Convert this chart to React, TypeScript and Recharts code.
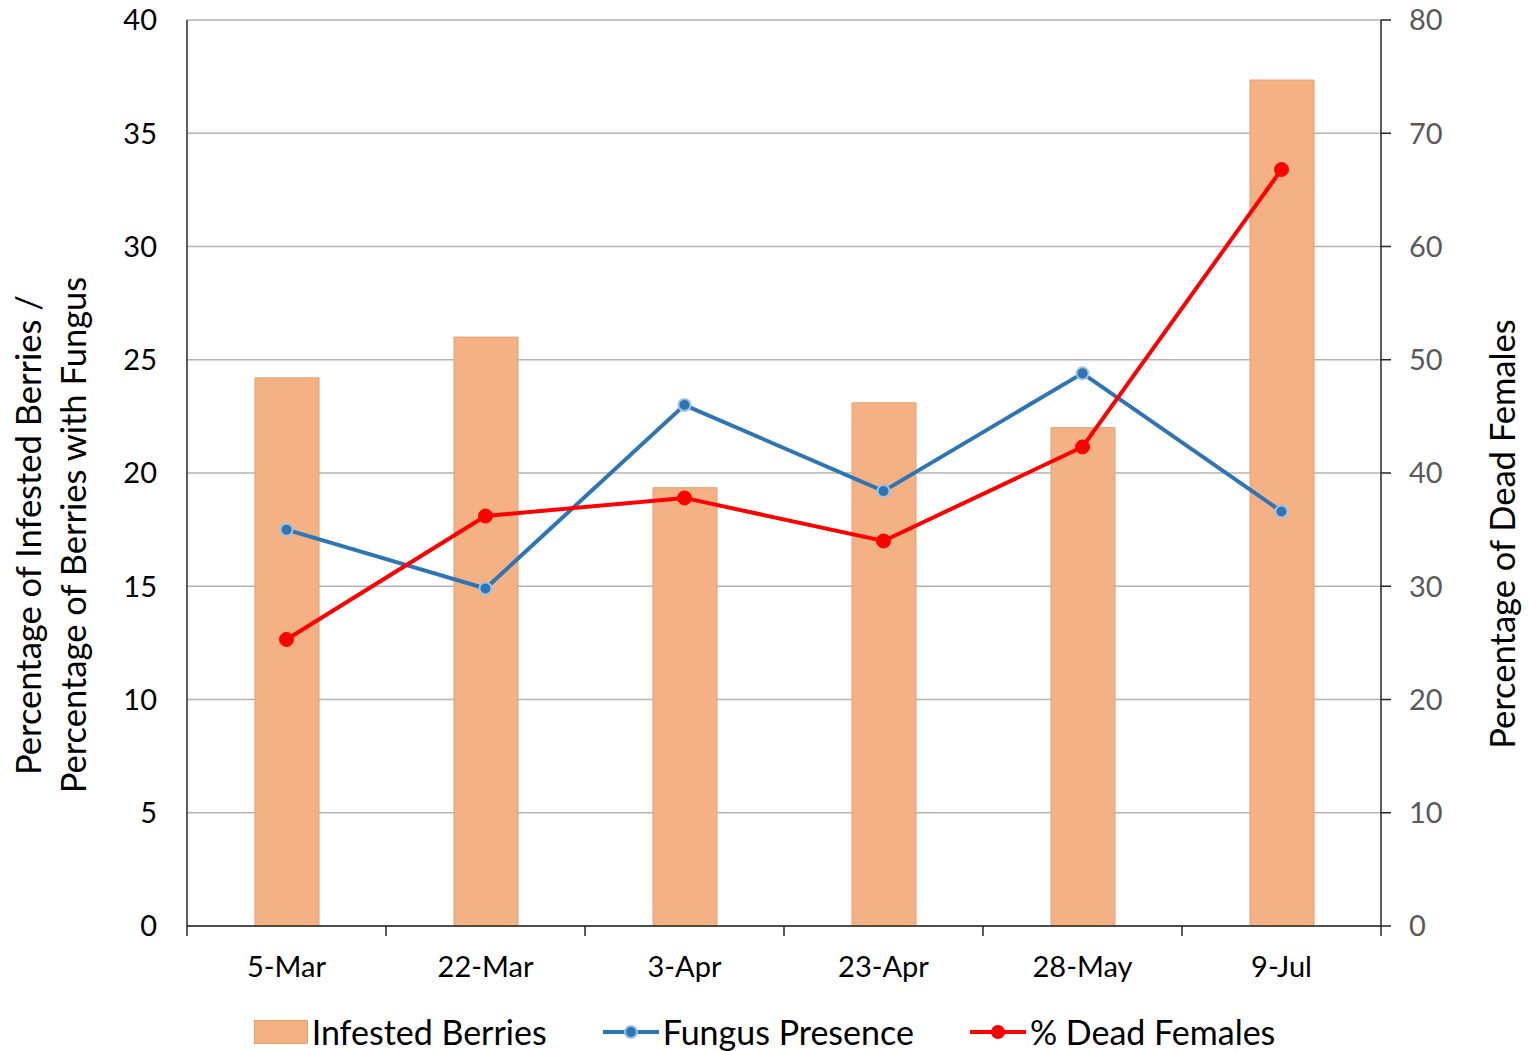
import {
  ComposedChart, Bar, Line, XAxis, YAxis, CartesianGrid, Legend,
} from 'recharts';

const dates = ['5-Mar', '22-Mar', '3-Apr', '23-Apr', '28-May', '9-Jul'];
const infestedBerries = [24.2, 26.0, 19.35, 23.1, 22.0, 37.35];
const fungusPresence = [17.5, 14.9, 23.0, 19.2, 24.4, 18.3];
const deadFemales = [25.3, 36.2, 37.8, 34.0, 42.3, 66.8];

const leftTicks = [0, 5, 10, 15, 20, 25, 30, 35, 40];
const rightTicks = [0, 10, 20, 30, 40, 50, 60, 70, 80];

const data = dates.map((d, i) => ({
  date: d,
  infested: infestedBerries[i],
  fungus: fungusPresence[i],
  dead: deadFemales[i],
}));

const FONT = 'Lato, "Liberation Sans", sans-serif';
const C = {
  bar: '#F4B183',
  barEdge: '#E3A06E',
  blue: '#2E75B6',
  blueRing: '#9DC3E6',
  red: '#FF0000',
  grid: '#B3B3B3',
  axis: '#262626',
};

function DateTick(props: any) {
  const { x, y, payload, index } = props;
  const half = payload?.offset || 99.5;
  return (
    <g>
      <line x1={x - half} x2={x - half} y1={y - 10} y2={y} stroke={C.axis} strokeWidth={1.5} />
      {index === dates.length - 1 && (
        <line x1={x + half} x2={x + half} y1={y - 10} y2={y} stroke={C.axis} strokeWidth={1.5} />
      )}
      <text x={x} y={y + 41} textAnchor="middle" fontSize={29} fontFamily={FONT} fill="#000">
        {payload.value}
      </text>
    </g>
  );
}

function LeftTitle(props: any) {
  const vb = props.viewBox || { x: 0, y: 20, height: 906 };
  const cy = vb.y + vb.height / 2 + 62;
  return (
    <g fontFamily={FONT} fontSize={34.5} fill="#000">
      <text transform={`translate(${vb.x + 41}, ${cy}) rotate(-90)`} textAnchor="middle">
        Percentage of Infested Berries /
      </text>
      <text transform={`translate(${vb.x + 86}, ${cy}) rotate(-90)`} textAnchor="middle">
        Percentage of Berries with Fungus
      </text>
    </g>
  );
}

function RightTitle(props: any) {
  const vb = props.viewBox || { x: 1381, y: 20, width: 148, height: 906 };
  const cy = vb.y + vb.height / 2 + 61;
  return (
    <text
      transform={`translate(${vb.x + 134}, ${cy}) rotate(-90)`}
      textAnchor="middle" fontFamily={FONT} fontSize={34.5} fill="#000"
    >
      Percentage of Dead Females
    </text>
  );
}

function LegendBox() {
  const item = { display: 'flex', alignItems: 'center' } as const;
  return (
    <div style={{
      display: 'flex', justifyContent: 'center', alignItems: 'center', gap: 56,
      fontFamily: FONT, fontSize: 34, color: '#000', height: 55, paddingTop: 16, boxSizing: 'border-box',
    }}>
      <div style={item}>
        <span style={{ width: 52, height: 22, background: C.bar, border: `1px solid ${C.barEdge}`, marginRight: 4 }} />
        Infested Berries
      </div>
      <div style={item}>
        <svg width={56} height={20} style={{ marginRight: 4 }}>
          <line x1={0} x2={56} y1={10} y2={10} stroke={C.blue} strokeWidth={4} />
          <circle cx={28} cy={10} r={6} fill={C.blue} stroke={C.blueRing} strokeWidth={2} />
        </svg>
        Fungus Presence
      </div>
      <div style={item}>
        <svg width={56} height={20} style={{ marginRight: 4 }}>
          <line x1={0} x2={56} y1={10} y2={10} stroke={C.red} strokeWidth={4} />
          <circle cx={28} cy={10} r={7} fill={C.red} />
        </svg>
        % Dead Females
      </div>
    </div>
  );
}

export default function App() {
  return (
    <div style={{ position: 'absolute', left: 0, top: 0, background: '#fff' }}>
      <ComposedChart
        width={1529}
        height={1051}
        data={data}
        margin={{ top: 20, right: 0, bottom: 0, left: 0 }}
        barCategoryGap={0}
      >
        <CartesianGrid yAxisId="left" vertical={false} stroke={C.grid} strokeWidth={1.5} />
        <XAxis
          dataKey="date"
          height={70}
          axisLine={{ stroke: C.axis, strokeWidth: 1.5 }}
          tickLine={false}
          tickSize={10}
          tickMargin={0}
          tick={<DateTick />}
          interval={0}
        />
        <YAxis
          yAxisId="left"
          width={187}
          domain={[0, 40]}
          ticks={leftTicks}
          interval={0}
          axisLine={{ stroke: C.axis, strokeWidth: 1.5 }}
          tickLine={false}
          tickSize={0}
          tickMargin={30}
          tick={{ fontSize: 29, fontFamily: FONT, fill: '#000' }}
          label={{ content: <LeftTitle /> }}
        />
        <YAxis
          yAxisId="right"
          orientation="right"
          width={148}
          domain={[0, 80]}
          ticks={rightTicks}
          interval={0}
          axisLine={{ stroke: C.axis, strokeWidth: 1.5 }}
          tickLine={{ stroke: C.axis, strokeWidth: 1.5 }}
          tickSize={10}
          tickMargin={18}
          tick={{ fontSize: 29, fontFamily: FONT, fill: '#595959' }}
          label={{ content: <RightTitle /> }}
        />
        <Legend verticalAlign="bottom" height={55} content={<LegendBox />} />
        <Bar
          yAxisId="left"
          dataKey="infested"
          name="Infested Berries"
          fill={C.bar}
          stroke={C.barEdge}
          strokeWidth={1}
          barSize={64}
          isAnimationActive={false}
        />
        <Line
          yAxisId="left"
          dataKey="fungus"
          name="Fungus Presence"
          stroke={C.blue}
          strokeWidth={4}
          dot={{ r: 6, fill: C.blue, stroke: C.blueRing, strokeWidth: 2 }}
          activeDot={false}
          isAnimationActive={false}
        />
        <Line
          yAxisId="right"
          dataKey="dead"
          name="% Dead Females"
          stroke={C.red}
          strokeWidth={4}
          dot={{ r: 7, fill: C.red, stroke: C.red, strokeWidth: 1 }}
          activeDot={false}
          isAnimationActive={false}
        />
      </ComposedChart>
    </div>
  );
}
